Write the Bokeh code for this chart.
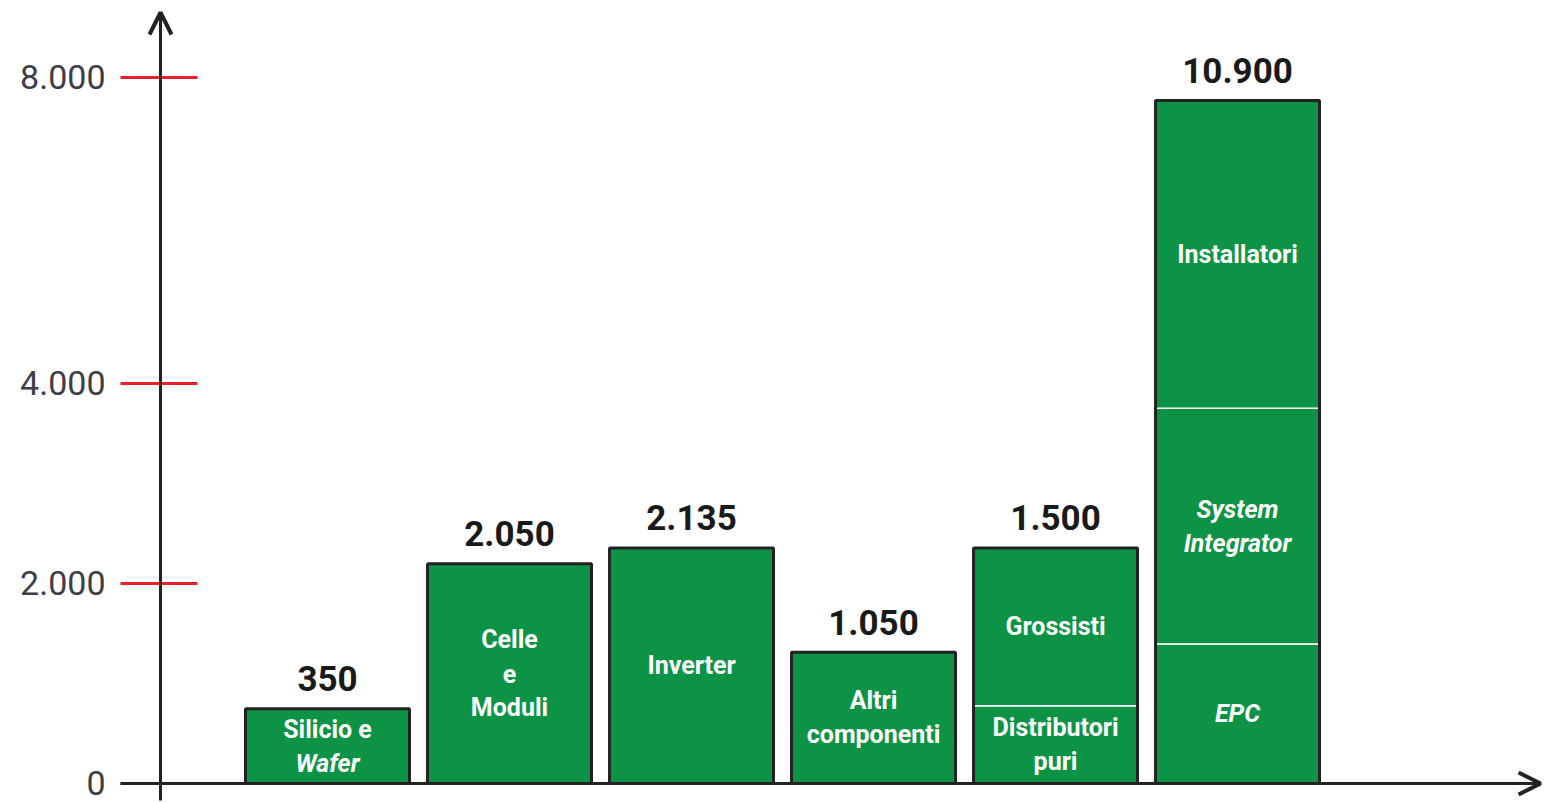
import numpy as np
from bokeh.plotting import figure
from bokeh.models import ColumnDataSource, Arrow, OpenHead, Range1d
from bokeh.core.properties import value
from bokeh.embed import file_html
from bokeh.resources import INLINE

# ---------------- data ----------------
CATEGORIES = ["Silicio e Wafer", "Celle e Moduli", "Inverter", "Altri componenti",
              "Distributori / Grossisti", "EPC / System Integrator / Installatori"]
VALUE_LABELS = [350, 2050, 2135, 1050, 1500, 10900]
# bar tops as read on the (broken) axis
BAR_TOPS = [747, 2198, 2356, 1313, 2356, 7699]

# stacked segments inside bars (bar index 1..6, bottom, top on axis scale)
SEG_BAR = [1, 2, 3, 4, 5, 5, 6, 6, 6]
SEG_LOW = [0, 0, 0, 0, 0, 778, 0, 1394, 3752]
SEG_HIGH = [747, 2198, 2356, 1313, 778, 2356, 1394, 3752, 7699]
SEG_TEXT = [["Silicio e", "Wafer"], ["Celle", "e", "Moduli"], ["Inverter"],
            ["Altri", "componenti"], ["Distributori", "puri"], ["Grossisti"],
            ["EPC"], ["System", "Integrator"], ["Installatori"]]
SEG_ITALIC = [[False, True], [False, False, False], [False], [False, False],
              [False, False], [False], [True], [True, True], [False]]

AXIS_TICKS = [0, 2000, 4000, 8000]
AXIS_TICK_POS = [0, 2000, 4000, 7060]   # axis is compressed above 4.000


def to_axis(v):
    return np.interp(np.asarray(v, dtype=float), AXIS_TICKS, AXIS_TICK_POS)


def fmt(v):
    return f"{v:,}".replace(",", ".")


GREEN = "#0d9345"
DARK = "#222222"
X0, X1 = -0.7967, 7.736

# ---------------- figure ----------------
p = figure(width=1553, height=802, output_backend="svg", toolbar_location=None,
           x_range=Range1d(X0, X1), y_range=Range1d(-190, 7830),
           min_border=0)
p.outline_line_color = None
p.xgrid.visible = False
p.ygrid.visible = False
p.xaxis.visible = False
p.yaxis.visible = False
p.background_fill_color = "white"
p.border_fill_color = "white"

AXIS_X = 0.0824

# red tick marks crossing the vertical axis
tick_pos = to_axis(AXIS_TICKS)
p.segment(x0=[-0.1374] * len(AXIS_TICKS), x1=[0.2857] * len(AXIS_TICKS),
          y0=tick_pos, y1=tick_pos, line_color="#e8202a", line_width=3)

# tick labels (right aligned)
p.text(x=[X0] * len(AXIS_TICKS), y=tick_pos, text=[fmt(t) for t in AXIS_TICKS],
       x_offset=105, y_offset=-1, text_align="right", text_baseline="middle",
       text_font=value("Roboto"), text_font_size="34px", text_color="#3d3d48")

# axes with arrows (x axis drawn over the red tick at 0)
p.add_layout(Arrow(end=OpenHead(size=22, line_width=4, line_color=DARK),
                   x_start=AXIS_X, y_start=-170, x_end=AXIS_X, y_end=7710,
                   line_color=DARK, line_width=3))
p.add_layout(Arrow(end=OpenHead(size=22, line_width=4, line_color=DARK),
                   x_start=-0.1374, y_start=0, x_end=7.665, y_end=0,
                   line_color=DARK, line_width=3))

xs = np.arange(1, len(CATEGORIES) + 1)

# segments
seg_src = ColumnDataSource(dict(x=SEG_BAR, bottom=to_axis(SEG_LOW), top=to_axis(SEG_HIGH)))
p.vbar(x="x", bottom="bottom", top="top", width=0.901, source=seg_src,
       fill_color=GREEN, line_color="white", line_width=1.5)

# outer bar outline
bar_src = ColumnDataSource(dict(x=xs, top=to_axis(BAR_TOPS), bottom=to_axis([0] * len(xs))))
p.vbar(x="x", bottom="bottom", top="top", width=0.901, source=bar_src,
       fill_color=None, line_color=DARK, line_width=3)

# value labels above bars
p.text(x=xs, y=to_axis(BAR_TOPS), text=[fmt(v) for v in VALUE_LABELS],
       text_align="center", text_baseline="middle", y_offset=-30,
       text_font=value("Roboto"), text_font_style="bold", text_font_size="35px",
       text_color="#1a1a1a")

# labels inside segments
LINE_H = 34
rows = {False: dict(x=[], y=[], t=[], off=[]), True: dict(x=[], y=[], t=[], off=[])}
for b, lo, hi, lines, its in zip(SEG_BAR, SEG_LOW, SEG_HIGH, SEG_TEXT, SEG_ITALIC):
    mid = (to_axis(lo) + to_axis(hi)) / 2
    n = len(lines)
    for k, (ln, it) in enumerate(zip(lines, its)):
        r = rows[it]
        r["x"].append(b)
        r["y"].append(mid)
        r["t"].append(ln)
        r["off"].append((k - (n - 1) / 2) * LINE_H)

for it, style in ((False, "bold"), (True, "bold italic")):
    r = rows[it]
    src = ColumnDataSource(dict(x=r["x"], y=r["y"], text=r["t"], off=r["off"]))
    p.text(x="x", y="y", text="text", y_offset="off", source=src,
           text_align="center", text_baseline="middle",
           text_font=value("Roboto"), text_font_style=style, text_font_size="25px",
           text_color="white")

open("out.html", "w").write(file_html(p, INLINE))
